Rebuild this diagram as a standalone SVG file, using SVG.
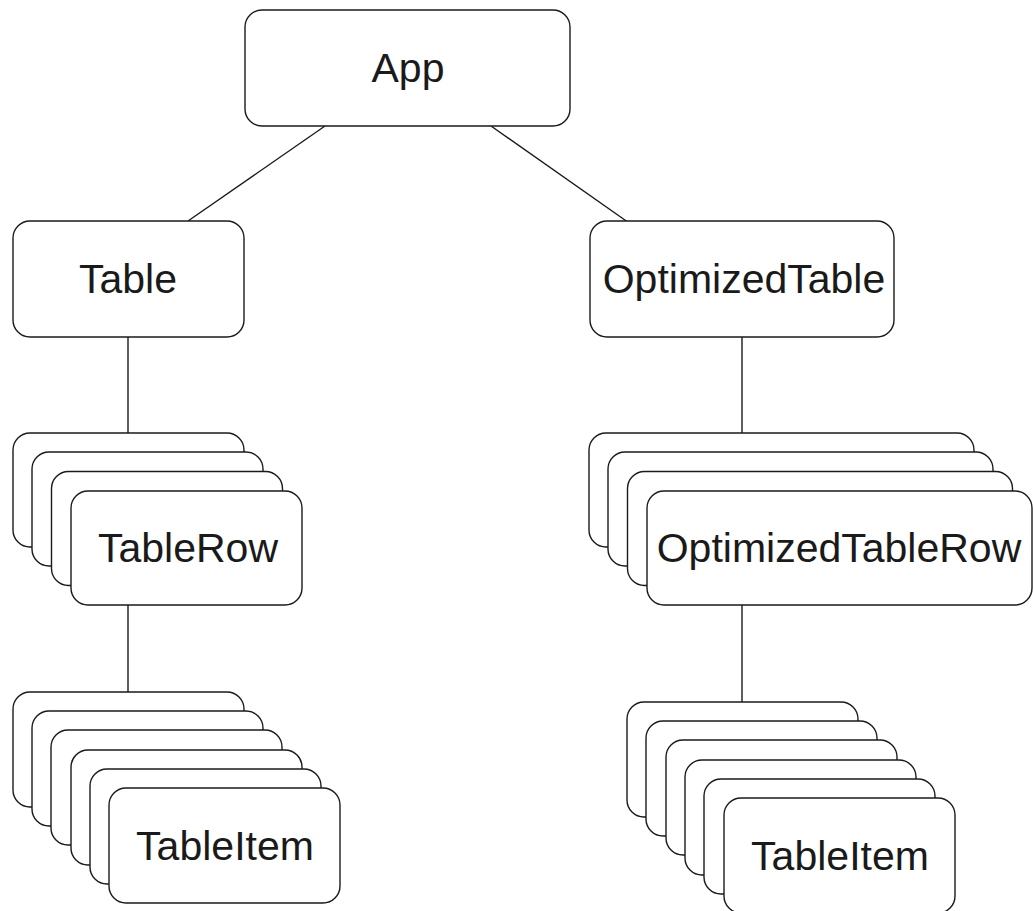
<svg xmlns="http://www.w3.org/2000/svg" width="1033" height="911" viewBox="0 0 1033 911">
<style>
.box{fill:#fff;stroke:#1a1a1a;stroke-width:1.4}
.lbl{font-family:"Liberation Sans",Arial,sans-serif;font-size:41px;fill:#1a1a1a;text-anchor:middle}
.edge{stroke:#1a1a1a;stroke-width:1.4;fill:none}
</style>
<rect width="1033" height="911" fill="#fff"/>
<g id="connectors">
<line class="edge" x1="325" y1="126" x2="188" y2="221"/>
<line class="edge" x1="491" y1="126" x2="632" y2="225"/>
<line class="edge" x1="128" y1="337" x2="128" y2="433"/>
<line class="edge" x1="742" y1="337" x2="742" y2="433"/>
<line class="edge" x1="128" y1="605" x2="128" y2="692"/>
<line class="edge" x1="742" y1="605" x2="742" y2="702"/>
</g>
<g id="app">
<rect class="box" x="245" y="10" width="325" height="116" rx="17"/>
<text class="lbl" x="408" y="82">App</text>
</g>
<g id="table">
<rect class="box" x="13" y="221" width="231" height="116" rx="17"/>
<text class="lbl" x="128" y="293">Table</text>
</g>
<g id="optimizedTable">
<rect class="box" x="590" y="221" width="304" height="116" rx="17"/>
<text class="lbl" x="744" y="293">OptimizedTable</text>
</g>
<g id="tableRow">
<rect class="box" x="13" y="433" width="231" height="114" rx="17"/>
<rect class="box" x="32" y="452" width="231" height="114" rx="17"/>
<rect class="box" x="51.5" y="471.5" width="231" height="114" rx="17"/>
<rect class="box" x="71" y="491" width="231" height="114" rx="17"/>
<text class="lbl" x="188" y="562">TableRow</text>
</g>
<g id="optimizedTableRow">
<rect class="box" x="589" y="433" width="385" height="114" rx="17"/>
<rect class="box" x="608" y="452" width="385" height="114" rx="17"/>
<rect class="box" x="627.5" y="471.5" width="385" height="114" rx="17"/>
<rect class="box" x="647" y="491" width="385" height="114" rx="17"/>
<text class="lbl" x="839" y="562">OptimizedTableRow</text>
</g>
<g id="tableItem">
<rect class="box" x="13" y="692" width="231" height="115" rx="17"/>
<rect class="box" x="32" y="711" width="231" height="115" rx="17"/>
<rect class="box" x="51" y="730" width="231" height="115" rx="17"/>
<rect class="box" x="71" y="750" width="231" height="115" rx="17"/>
<rect class="box" x="90" y="769" width="231" height="115" rx="17"/>
<rect class="box" x="109" y="788" width="231" height="115" rx="17"/>
<text class="lbl" x="225" y="860">TableItem</text>
</g>
<g id="optimizedTableItem">
<rect class="box" x="627" y="702" width="231" height="115" rx="17"/>
<rect class="box" x="646" y="721" width="231" height="115" rx="17"/>
<rect class="box" x="666" y="740" width="231" height="115" rx="17"/>
<rect class="box" x="685" y="760" width="231" height="115" rx="17"/>
<rect class="box" x="704" y="779" width="231" height="115" rx="17"/>
<rect class="box" x="724" y="798" width="231" height="115" rx="17"/>
<text class="lbl" x="840" y="870">TableItem</text>
</g>
</svg>
